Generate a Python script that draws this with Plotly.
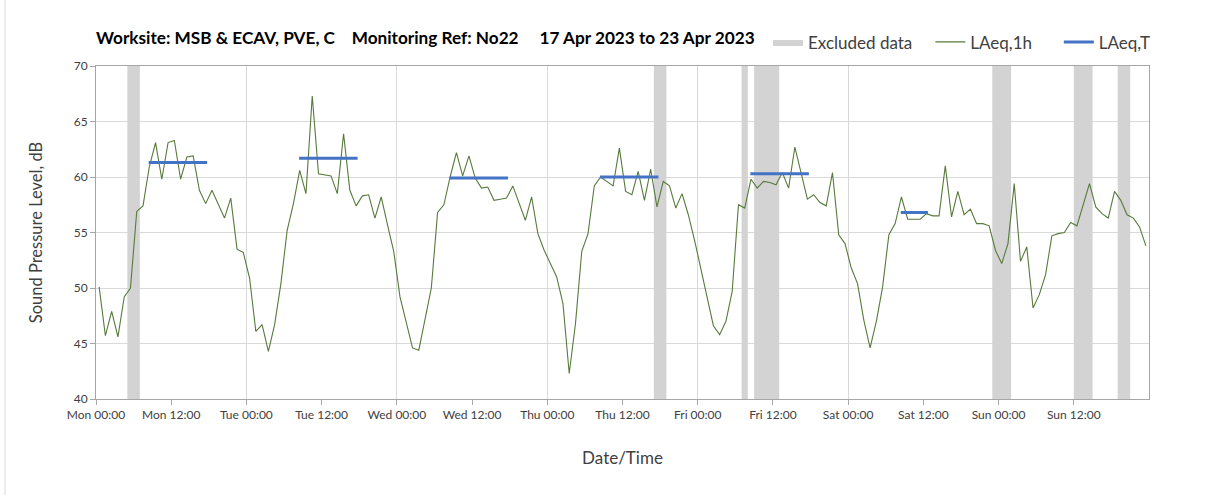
import plotly.graph_objects as go
import pandas as pd

# ---- data ----
start_time = "2023-04-17 00:00"
laeq_1h = [
    50.1, 45.7, 47.9, 45.6, 49.2, 50.0, 56.9, 57.4, 60.9, 63.1, 59.8, 63.1,
    63.3, 59.8, 61.8, 61.9, 58.8, 57.6, 58.8, 57.5, 56.3, 58.1, 53.5, 53.2,
    50.9, 46.1, 46.7, 44.3, 46.7, 50.4, 55.2, 57.6, 60.6, 58.5, 67.3, 60.3,
    60.2, 60.1, 58.5, 63.9, 58.8, 57.4, 58.3, 58.4, 56.3, 58.2, 55.7, 53.3,
    49.2, 46.8, 44.6, 44.4, 47.3, 50.0, 56.8, 57.5, 60.0, 62.2, 60.1, 61.9,
    59.9, 59.0, 59.1, 57.9, 58.0, 58.1, 59.2, 57.6, 56.1, 58.2, 54.9, 53.4,
    52.2, 51.0, 48.6, 42.3, 46.8, 53.3, 54.9, 59.2, 60.0, 59.6, 59.2, 62.6,
    58.7, 58.4, 60.5, 57.9, 60.7, 57.3, 59.6, 59.2, 57.2, 58.5, 56.6, 54.3,
    51.8, 49.4, 46.6, 45.8, 47.0, 49.7, 57.5, 57.2, 59.8, 59.0, 59.6, 59.5,
    59.3, 60.4, 59.0, 62.7, 60.3, 58.0, 58.4, 57.7, 57.4, 60.4, 54.8, 54.0,
    51.8, 50.4, 47.1, 44.6, 47.0, 50.1, 54.8, 55.8, 58.2, 56.2, 56.2, 56.2,
    56.7, 56.5, 56.5, 61.0, 56.4, 58.7, 56.6, 57.1, 55.8, 55.8, 55.6, 53.4,
    52.2, 54.0, 59.4, 52.4, 53.7, 48.2, 49.4, 51.2, 54.7, 54.9, 55.0, 55.9,
    55.6, 57.6, 59.4, 57.3, 56.7, 56.3, 58.7, 57.9, 56.6, 56.3, 55.5, 53.8,
]

# LAeq,T daytime periods
laeq_t_start = ["2023-04-17 08:24", "2023-04-18 08:24", "2023-04-19 08:24",
                "2023-04-20 08:24", "2023-04-21 08:24", "2023-04-22 08:24"]
laeq_t_end = ["2023-04-17 17:44", "2023-04-18 17:44", "2023-04-19 17:44",
              "2023-04-20 17:44", "2023-04-21 17:44", "2023-04-22 12:44"]
laeq_t_value = [61.3, 61.7, 59.9, 60.0, 60.3, 56.8]

# Excluded data periods
excl_start = ["2023-04-17 05:00", "2023-04-20 17:00", "2023-04-21 07:00",
              "2023-04-21 09:00", "2023-04-22 23:00", "2023-04-23 12:00",
              "2023-04-23 19:00"]
excl_end = ["2023-04-17 07:00", "2023-04-20 19:00", "2023-04-21 08:00",
            "2023-04-21 13:00", "2023-04-23 02:00", "2023-04-23 15:00",
            "2023-04-23 21:00"]

y_min, y_max = 40, 70
x_range = ["2023-04-17 00:00", "2023-04-24 00:00"]
x_tick_count = 14  # Mon 00:00 ... Sun 12:00, every 12 h
title_text = ("Worksite: MSB & ECAV, PVE, C\u00a0\u00a0\u00a0 Monitoring Ref: No22"
              "\u00a0\u00a0\u00a0\u00a0 17 Apr 2023 to 23 Apr 2023")
legend_names = ["Excluded data\u00a0\u00a0\u00a0", "LAeq,1h\u00a0\u00a0\u00a0\u00a0\u00a0", "LAeq,T"]

# ---- build ----
times = pd.date_range(start_time, periods=len(laeq_1h), freq="h") + pd.Timedelta(minutes=30)
tick_vals = list(pd.date_range(x_range[0], periods=x_tick_count, freq="12h"))

bx, by = [], []
for s, e in zip(excl_start, excl_end):
    bx += [s, e, e, s, s, None]
    by += [y_min, y_min, y_max, y_max, y_min, None]

tx, ty = [], []
for s, e, v in zip(laeq_t_start, laeq_t_end, laeq_t_value):
    tx += [s, e, None]
    ty += [v, v, None]

FONT = "Lato"

fig = go.Figure()
fig.add_trace(go.Scatter(
    x=bx, y=by, mode="lines", fill="toself", fillcolor="#d3d3d3",
    line=dict(width=0, color="#d3d3d3"), name=legend_names[0],
    xaxis="x", hoverinfo="skip"))
fig.add_trace(go.Scatter(
    x=times, y=laeq_1h, mode="lines", name=legend_names[1], xaxis="x2",
    line=dict(color="#587a3c", width=1.1)))
fig.add_trace(go.Scatter(
    x=tx, y=ty, mode="lines", name=legend_names[2], xaxis="x2",
    line=dict(color="#4472c4", width=3)))

axis_line = "#a6a6a6"
fig.update_layout(
    width=1208, height=495,
    margin=dict(l=96, r=59, t=66, b=96),
    paper_bgcolor="white", plot_bgcolor="white",
    font=dict(family=FONT, color="#404040", size=12),
    title=dict(text="<b>" + title_text + "</b>", x=96 / 1208, xanchor="left",
               y=1 - 38 / 495, yanchor="middle",
               font=dict(family=FONT, size=17.2, color="#000000")),
    showlegend=True,
    legend=dict(orientation="h", x=(768 - 96) / 1053, xanchor="left", y=1.071,
                yanchor="middle",
                font=dict(family=FONT, size=17, color="#404040"),
                bgcolor="rgba(0,0,0,0)", itemwidth=30, traceorder="normal"),
    xaxis=dict(
        type="date", range=x_range, tickmode="array", tickvals=tick_vals,
        tickformat="%a %H:%M", showgrid=False, ticks="outside", ticklen=5,
        tickcolor=axis_line, showline=True, linecolor=axis_line, mirror=True,
        tickfont=dict(family=FONT, size=12, color="#404040"),
        title=dict(text="Date/Time", standoff=30,
                   font=dict(family=FONT, size=17, color="#404040")),
        zeroline=False),
    xaxis2=dict(
        type="date", range=x_range, overlaying="x", matches="x", anchor="y",
        dtick=24 * 3600 * 1000, tick0="2023-04-17 00:00", showgrid=True,
        gridcolor="#d9d9d9", gridwidth=1, showticklabels=False, ticks="",
        showline=False, zeroline=False, side="bottom"),
    yaxis=dict(
        range=[y_min, y_max], dtick=5, showgrid=True, gridcolor="#d9d9d9",
        ticks="outside", ticklen=5, tickcolor=axis_line, showline=True,
        linecolor=axis_line, mirror=True, zeroline=False,
        tickfont=dict(family=FONT, size=12, color="#404040"),
        title=dict(text="Sound Pressure Level, dB", standoff=26,
                   font=dict(family=FONT, size=16.5, color="#404040"))),
    shapes=[dict(type="line", xref="paper", yref="paper",
                 x0=-91 / 1053, x1=-91 / 1053, y0=-0.3, y1=1.25,
                 line=dict(color="#d9d9d9", width=1))],
)

fig.write_html("out.html", config={"displayModeBar": False},
               post_script="document.body.style.margin='0px';document.body.style.padding='0px';")
